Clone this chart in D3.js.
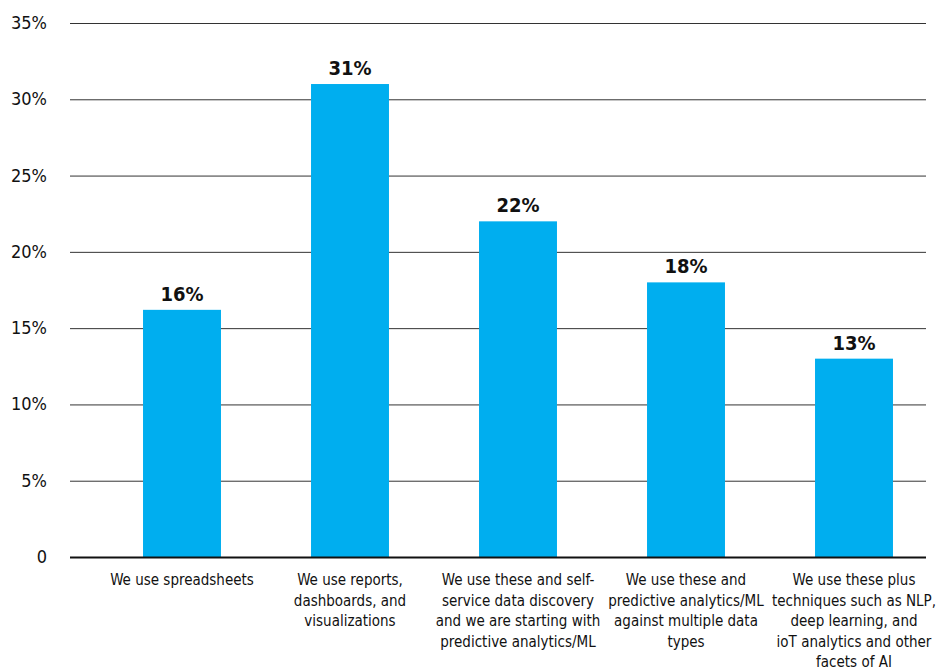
<!DOCTYPE html>
<html><head><meta charset="utf-8">
<title>bars</title>
<script src="https://cdn.jsdelivr.net/npm/d3@7"></script>
<style>
* { box-sizing: border-box; }
body { margin: 0; background: white; }
svg text { font-family: "DejaVu Sans Condensed", "DejaVu Sans", sans-serif; font-stretch: condensed; fill: #111; }
</style>
</head><body>
<svg id="chart" width="936" height="672"></svg>
<script>
// data
var categories = ["spreadsheets", "reports", "selfservice", "multiple", "plus"];
var categoryLines = [
  ["We use spreadsheets"],
  ["We use reports,", "dashboards, and", "visualizations"],
  ["We use these and self-", "service data discovery", "and we are starting with", "predictive analytics/ML"],
  ["We use these and", "predictive analytics/ML", "against multiple data", "types"],
  ["We use these plus", "techniques such as NLP,", "deep learning, and", "ioT analytics and other", "facets of AI"]
];
var values = [16.2, 31, 22, 18, 13];
var valueLabels = ["16%", "31%", "22%", "18%", "13%"];
var yTicks = [0, 5, 10, 15, 20, 25, 30, 35];

var svg = d3.select("#chart");
var plotLeft = 70, plotRight = 926, plotBottom = 557, plotTop = 23;

var x = d3.scaleBand().domain(categories).range([98, 938])
  .paddingInner(0.536).paddingOuter(0.268);
var y = d3.scaleLinear().domain([0, 35]).range([plotBottom, plotTop]);

// gridlines
svg.selectAll("line.grid").data(yTicks.filter(d => d > 0)).join("line")
  .attr("class", "grid")
  .attr("x1", plotLeft).attr("x2", plotRight)
  .attr("y1", d => y(d) + 0.5).attr("y2", d => y(d) + 0.5)
  .attr("stroke", "#333").attr("stroke-width", 1);

// y tick labels
svg.selectAll("text.ytick").data(yTicks).join("text")
  .attr("class", "ytick")
  .attr("x", 47).attr("y", d => y(d) + 6)
  .attr("text-anchor", "end")
  .style("font-size", "18px")
  .text(d => d == 0 ? "0" : d + "%");

// bars
svg.selectAll("rect.bar").data(values).join("rect")
  .attr("class", "bar")
  .attr("x", (d, i) => x(categories[i]))
  .attr("width", x.bandwidth())
  .attr("y", d => y(d))
  .attr("height", d => y(0) - y(d))
  .attr("fill", "#00aeef");

// value labels
svg.selectAll("text.val").data(values).join("text")
  .attr("class", "val")
  .attr("x", (d, i) => x(categories[i]) + x.bandwidth() / 2)
  .attr("y", d => y(d) - 9)
  .attr("text-anchor", "middle")
  .style("font-size", "20px").style("font-weight", "bold")
  .text((d, i) => valueLabels[i]);

// baseline
svg.append("line")
  .attr("x1", plotLeft).attr("x2", plotRight)
  .attr("y1", plotBottom + 0.5).attr("y2", plotBottom + 0.5)
  .attr("stroke", "#111").attr("stroke-width", 2);

// category labels
svg.selectAll("text.cat").data(categoryLines).join("text")
  .attr("class", "cat")
  .attr("text-anchor", "middle")
  .style("font-size", "15px")
  .each(function(lines, i) {
    var t = d3.select(this);
    lines.forEach(function(s, j) {
      t.append("tspan")
        .attr("x", x(categories[i]) + x.bandwidth() / 2)
        .attr("y", 585 + j * 20.5)
        .text(s);
    });
  });
</script>
</body></html>
